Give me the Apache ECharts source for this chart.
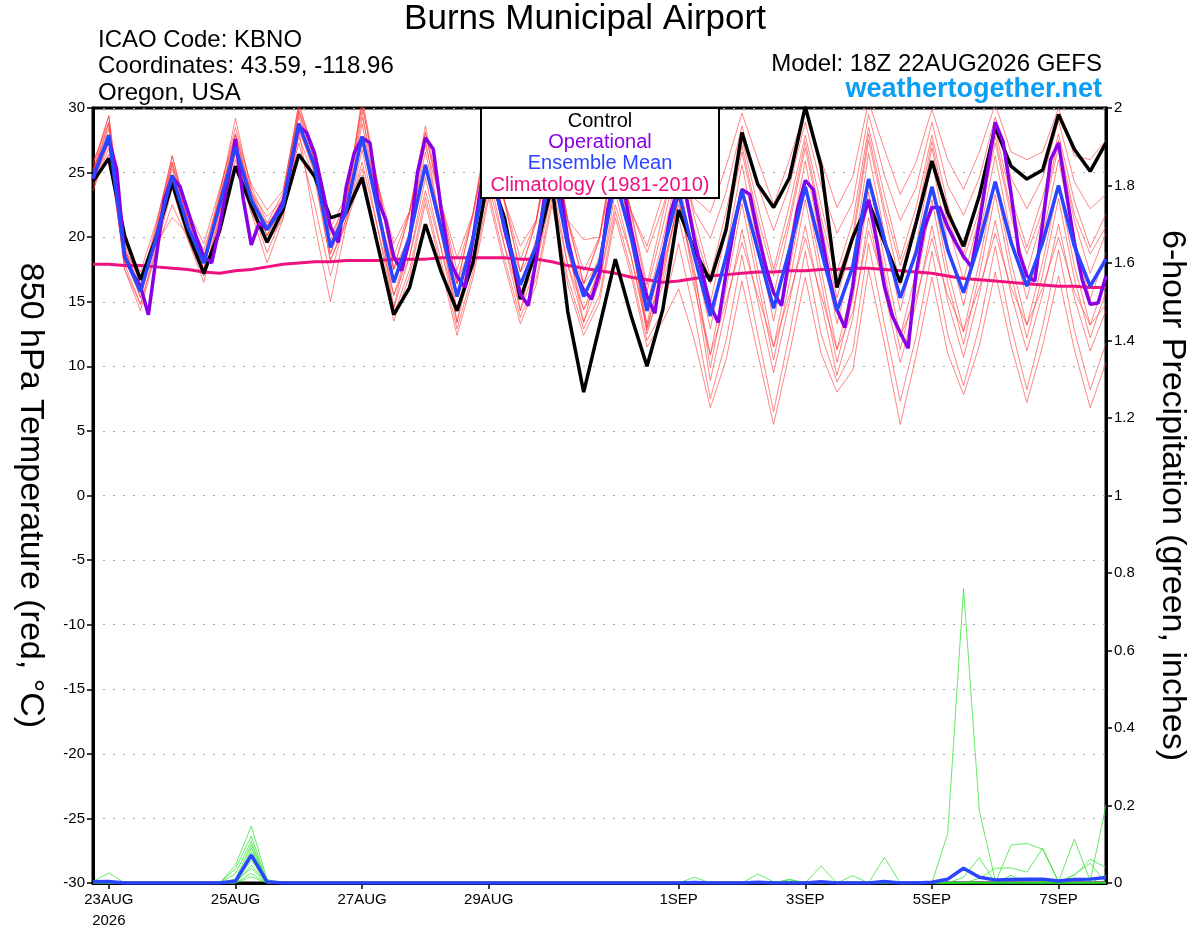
<!DOCTYPE html>
<html><head><meta charset="utf-8">
<script src="https://cdn.jsdelivr.net/npm/echarts@6/dist/echarts.min.js"></script>
<style>html,body{margin:0;padding:0;background:#fff}#c{width:1200px;height:927px}</style>
</head><body><div id="c"></div>
<script>
// ---- axis ticks (hours since 18Z 22AUG2026) ----
const tickHours = [6, 54, 102, 150, 222, 270, 318, 366];
const tickLabels = ['23AUG\n2026', '25AUG', '27AUG', '29AUG', '1SEP', '3SEP', '5SEP', '7SEP'];

// ---- 850 hPa temperature, 6-hourly (deg C) ----
const control = [24.3,26.1,20.1,16.7,20.0,24.2,20.3,17.2,20.5,25.5,
 22.4,19.6,22.1,26.4,24.7,21.5,21.9,24.6,19.3,14.0,
 16.1,21.0,17.3,14.3,18.0,25.0,21.5,15.2,19.0,24.0,
 14.2,8.0,13.1,18.3,13.9,10.0,14.4,22.1,19.0,16.6,
 20.6,28.1,24.1,22.3,24.6,30.1,25.5,16.1,20.0,22.7,
 19.6,16.5,21.1,25.9,21.9,19.3,23.2,28.5,25.5,24.5,
 25.2,29.5,26.8,25.1,27.3];

const ensembleMean = [24.6,27.9,18.5,15.8,20.0,24.8,20.8,18.0,22.5,27.0,
 22.9,20.6,22.4,28.8,25.5,19.2,22.0,27.8,22.1,16.5,
 20.0,25.6,20.6,15.4,19.8,26.0,20.8,16.3,19.3,25.5,
 19.3,15.4,18.0,24.5,20.0,14.3,18.8,23.5,18.5,13.9,
 18.5,23.6,19.0,14.5,19.0,23.9,19.0,14.3,17.7,24.5,
 19.8,15.3,18.8,23.9,19.0,15.7,19.6,24.3,19.6,16.2,
 19.6,24.0,19.3,16.2,18.3];

const climatology = [17.9,17.9,17.8,17.8,17.7,17.6,17.5,17.3,17.2,17.4,
 17.5,17.7,17.9,18.0,18.1,18.1,18.2,18.2,18.2,18.3,
 18.3,18.3,18.4,18.4,18.4,18.4,18.4,18.3,18.3,18.1,
 17.8,17.6,17.4,17.2,16.9,16.7,16.5,16.6,16.8,17.0,
 17.1,17.2,17.3,17.3,17.4,17.4,17.5,17.5,17.6,17.6,
 17.5,17.4,17.3,17.2,17.0,16.8,16.7,16.6,16.5,16.4,
 16.3,16.2,16.2,16.1,16.1];

// operational run, 3-hourly
const operational = [24.5,26.3,27.6,25.2,18.5,17.2,16.2,14.0,18.5,22.9,
 24.7,23.9,22.0,20.1,18.5,18.0,20.8,24.2,27.6,22.9,
 19.4,21.1,20.6,21.6,22.7,25.5,28.6,28.1,26.5,23.7,
 20.8,19.6,23.9,26.5,27.7,27.3,22.9,21.3,18.5,17.4,
 19.8,25.0,27.7,26.8,22.1,18.3,17.0,16.1,19.8,23.9,
 27.0,23.5,20.6,18.3,15.6,14.7,18.3,22.9,25.5,24.0,
 19.8,17.2,15.9,15.2,17.2,22.0,25.0,24.0,20.6,17.7,
 15.4,14.1,18.5,21.9,24.0,23.0,19.8,17.2,14.7,13.4,
 17.2,20.8,23.7,23.3,20.3,17.7,15.7,14.7,18.5,22.1,
 24.4,23.7,20.3,17.0,14.4,13.0,16.2,20.8,22.9,19.8,
 16.2,13.9,12.6,11.4,17.2,20.6,22.3,22.3,20.8,19.6,
 18.5,17.7,21.1,25.0,28.9,27.4,23.4,18.8,17.0,16.6,
 21.1,26.0,27.3,23.4,19.6,16.7,14.8,14.9,17.0];

// ensemble members (6-hourly)
const member01 = [25.6,29.4,19.5,16.3,21.0,26.3,21.8,18.5,23.5,28.5,
 23.9,21.1,23.4,30.3,26.5,19.7,23.0,30.3,24.1,18.5,
 22.0,28.1,22.6,17.4,21.8,28.5,22.8,18.3,21.3,28.0,
 21.3,17.4,20.0,27.0,22.0,19.3,23.3,27.5,23.0,21.9,
 25.5,29.6,26.0,22.5,26.0,29.9,26.0,22.3,24.7,30.5,
 26.8,23.3,25.8,29.9,26.0,23.7,26.6,30.3,26.6,26.0,
 26.6,30.0,26.3,26.0,27.5];
const member02 = [25.1,28.9,19.0,15.3,20.5,25.8,21.3,17.5,23.0,28.0,
 23.4,20.1,22.9,29.8,26.0,18.7,22.5,29.3,24.1,19.5,
 22.0,27.1,22.6,18.4,21.8,27.5,22.8,19.3,21.3,27.0,
 21.3,19.8,20.0,26.0,22.0,18.8,22.3,26.5,22.0,19.9,
 23.5,28.6,24.0,20.5,24.0,28.9,24.0,20.3,22.7,29.5,
 24.8,21.3,23.8,28.9,24.0,21.7,24.6,29.3,24.6,22.2,
 24.6,29.0,24.3,22.2,23.3];
const member03 = [25.1,28.4,19.0,16.8,20.5,25.3,21.3,19.0,23.0,27.5,
 23.4,21.6,22.9,29.3,26.0,20.2,22.5,30.8,24.1,17.5,
 22.0,28.6,22.6,16.4,21.8,29.0,22.8,17.3,21.3,28.5,
 21.3,16.4,20.0,27.5,22.0,16.3,21.8,27.0,21.5,16.9,
 22.0,27.6,22.5,17.5,22.5,27.9,22.5,17.3,21.2,28.5,
 23.3,18.3,22.3,27.9,22.5,18.7,23.1,28.3,23.1,19.2,
 23.1,28.0,22.8,19.2,21.8];
const member04 = [24.6,27.9,18.5,15.3,20.0,24.8,20.8,17.5,22.5,27.0,
 22.9,20.1,22.4,28.8,25.5,18.7,22.0,28.8,22.6,16.5,
 20.5,26.6,21.1,15.4,20.3,27.0,21.3,16.3,19.8,26.5,
 19.8,15.4,18.5,25.5,20.5,14.8,19.8,25.5,19.5,14.9,
 20.5,26.6,21.0,15.5,21.0,26.9,21.0,15.3,19.7,27.5,
 21.8,16.3,20.8,26.9,21.0,16.7,21.6,27.3,21.6,17.2,
 21.6,27.0,21.3,17.2,20.3];
const member05 = [24.3,27.4,18.2,15.8,19.7,24.3,20.5,18.0,22.2,26.5,
 22.6,20.6,22.1,28.3,25.2,19.2,21.7,27.8,21.6,15.5,
 19.5,25.6,20.1,14.4,19.3,26.0,20.3,15.3,18.8,25.5,
 18.8,14.4,17.5,24.5,19.5,13.3,18.8,24.5,18.5,12.9,
 19.0,25.6,19.5,13.5,19.5,25.9,19.5,13.3,18.2,26.5,
 20.3,14.3,19.3,25.9,19.5,14.7,20.1,26.3,20.1,15.2,
 20.1,26.0,19.8,15.2,18.8];
const member06 = [23.6,26.9,17.5,14.8,19.0,23.8,19.8,17.0,21.5,26.0,
 21.9,19.6,21.4,27.8,24.5,18.2,21.0,26.8,20.6,14.5,
 18.5,24.6,19.1,13.4,18.3,25.0,19.3,14.3,17.8,24.5,
 17.8,13.4,16.5,23.5,18.5,13.0,17.3,23.0,17.0,10.9,
 17.0,23.6,17.5,11.5,17.5,23.9,17.5,11.3,16.2,24.5,
 18.3,12.3,17.3,23.9,17.5,12.7,18.1,24.3,18.1,13.2,
 18.1,24.0,17.8,13.2,16.8];
const member07 = [25.1,28.7,19.0,16.1,20.5,25.6,21.3,18.3,23.0,27.8,
 23.4,20.9,22.9,29.6,26.0,19.5,22.5,27.3,22.1,17.5,
 20.0,25.1,20.6,16.4,19.8,25.5,20.8,17.3,19.3,25.0,
 19.3,16.4,18.0,24.0,20.0,13.0,17.8,22.5,17.5,9.9,
 16.0,22.6,16.5,10.5,16.5,22.9,16.5,10.3,15.2,23.5,
 17.3,11.3,16.3,22.9,16.5,11.7,17.1,23.3,17.1,12.2,
 17.1,23.0,16.8,12.2,15.8];
const member08 = [24.0,27.6,17.9,14.8,19.4,24.5,20.2,17.0,21.9,26.7,
 22.3,18.8,21.8,28.5,24.9,18.2,21.4,25.8,20.6,15.5,
 18.5,23.6,19.1,14.4,18.3,24.0,19.3,15.3,17.8,23.5,
 17.8,14.4,16.5,22.5,18.5,12.8,16.3,21.5,16.0,10.9,
 15.0,19.6,15.5,11.5,15.5,19.9,15.5,11.3,14.2,20.5,
 16.3,12.3,15.3,19.9,15.5,12.7,16.1,20.3,16.1,13.2,
 16.1,20.0,15.8,13.2,14.8];
const member09 = [25.3,29.4,19.2,15.8,20.7,26.3,21.5,18.0,23.2,29.2,
 23.6,20.6,23.1,30.3,26.2,19.2,22.7,29.8,22.1,14.5,
 20.0,27.6,20.6,13.4,19.8,28.0,20.8,14.3,19.3,27.5,
 19.3,13.4,18.0,26.5,20.0,12.5,16.8,23.0,16.5,8.9,
 14.5,20.6,15.0,9.5,15.0,20.9,15.0,9.3,13.7,21.5,
 15.8,10.3,14.8,20.9,15.0,10.7,15.6,21.3,15.6,11.2,
 15.6,21.0,15.3,11.2,14.3];
const member10 = [24.1,26.4,18.0,16.3,19.5,21.5,20.3,18.5,22.0,25.5,
 22.4,21.1,21.9,27.3,22.5,17.0,21.5,25.3,19.6,14.0,
 17.5,23.1,18.1,12.9,17.3,23.5,18.3,13.8,16.8,23.0,
 16.8,12.9,15.5,22.0,17.5,12.0,14.3,19.5,14.0,7.5,
 12.0,18.6,12.5,6.5,12.5,18.9,12.5,8.8,11.2,19.5,
 13.3,7.3,12.3,18.9,12.5,8.5,13.1,19.3,13.1,8.2,
 13.1,19.0,12.8,8.2,11.8];
const member11 = [25.8,28.9,19.7,17.3,21.2,25.8,22.0,19.5,23.7,28.0,
 24.1,22.1,23.6,29.8,26.7,20.7,23.2,30.3,23.9,17.5,
 21.8,28.1,22.4,16.4,21.6,28.5,22.6,17.3,21.1,28.0,
 21.1,16.4,19.8,27.0,21.8,15.8,20.8,26.5,20.5,16.4,
 21.0,27.1,21.5,17.0,21.5,27.4,21.5,16.8,20.2,28.0,
 22.3,17.8,21.3,27.4,21.5,18.2,22.1,27.8,22.1,18.7,
 22.1,27.5,21.8,18.7,20.8];
const member12 = [23.6,27.4,17.5,14.3,19.0,22.5,19.8,16.5,21.5,26.5,
 21.9,18.0,21.4,28.3,21.0,15.0,21.0,24.8,19.1,13.5,
 17.0,22.6,17.6,12.4,16.8,23.0,17.8,13.3,16.3,22.5,
 16.3,12.4,15.0,21.5,17.0,11.5,13.5,16.0,12.0,6.8,
 10.5,16.6,11.0,5.5,11.0,16.9,11.0,8.0,9.7,17.5,
 11.8,5.5,10.8,16.9,11.0,7.8,11.6,17.3,11.6,7.2,
 11.6,17.0,11.3,6.8,10.3];

// ---- 6-hour precipitation (inches), 6-hourly ----
const precipMean = [0.003,0.004,0,0,0,0,0,0,0,0.005,
 0.072,0.003,0,0,0,0,0,0,0,0,
 0,0,0,0,0,0,0,0,0,0,
 0,0,0,0,0,0,0,0,0.001,0,
 0,0,0.002,0,0,0,0.003,0,0,0,
 0.004,0,0,0.002,0.010,0.038,0.015,0.008,0.009,0.010,
 0.010,0.005,0.009,0.010,0.014];
const precip01 = [0,0,0,0,0,0,0,0,0,0.046, 0.147,0.009,0,0,0,0,0,0,0,0,
 0,0,0,0,0,0,0,0,0,0, 0,0,0,0,0,0,0,0,0.015,0, 0,0,0,0,0,0,0.044,0,0,0,
 0,0,0,0,0,0,0,0,0,0, 0,0,0,0,0];
const precip02 = [0,0,0,0,0,0,0,0,0,0.037, 0.121,0.004,0,0,0,0,0,0,0,0,
 0,0,0,0,0,0,0,0,0,0, 0,0,0,0,0,0,0,0,0,0, 0,0,0.023,0.003,0,0,0,0,0,0,
 0,0,0,0,0,0,0,0,0,0, 0,0,0,0,0];
const precip03 = [0,0,0,0,0,0,0,0,0,0.024, 0.108,0,0,0,0,0,0,0,0,0,
 0,0,0,0,0,0,0,0,0,0, 0,0,0,0,0,0,0,0,0,0, 0,0,0,0,0.010,0,0,0,0.019,0,
 0,0,0,0,0,0,0,0,0,0, 0,0,0,0,0];
const precip04 = [0,0,0,0,0,0,0,0,0,0.010, 0.099,0,0,0,0,0,0,0,0,0,
 0,0,0,0,0,0,0,0,0,0, 0,0,0,0,0,0,0,0,0,0, 0,0,0,0,0.008,0,0,0,0,0,
 0.066,0,0,0,0,0,0,0,0,0, 0,0,0,0,0];
const precip05 = [0.004,0.026,0,0,0,0,0,0,0,0, 0.090,0,0,0,0,0,0,0,0,0,
 0,0,0,0,0,0,0,0,0,0, 0,0,0,0,0,0,0,0,0,0, 0,0,0,0,0,0,0,0,0,0,
 0,0,0,0,0.128,0.760,0.185,0.008,0,0, 0,0,0,0,0];
const precip06 = [0,0,0,0,0,0,0,0,0,0, 0.080,0,0,0,0,0,0,0,0,0,
 0,0,0,0,0,0,0,0,0,0, 0,0,0,0,0,0,0,0,0,0, 0,0,0,0,0,0,0,0,0,0,
 0,0,0,0,0,0.015,0.066,0,0,0, 0,0,0,0,0];
const precip07 = [0,0,0,0,0,0,0,0,0,0, 0.072,0,0,0,0,0,0,0,0,0,
 0,0,0,0,0,0,0,0,0,0, 0,0,0,0,0,0,0,0,0,0, 0,0,0,0,0,0,0,0,0,0,
 0,0,0,0,0,0,0.012,0.038,0.039,0.028, 0.090,0.003,0.020,0.061,0.040];
const precip08 = [0,0,0,0,0,0,0,0,0,0, 0.059,0,0,0,0,0,0,0,0,0,
 0,0,0,0,0,0,0,0,0,0, 0,0,0,0,0,0,0,0,0,0, 0,0,0,0,0,0,0,0,0,0,
 0,0,0,0,0,0,0,0,0.098,0.102, 0.087,0.003,0.113,0.005,0.201];
const precip09 = [0,0,0,0,0,0,0,0,0,0, 0.046,0,0,0,0,0,0,0,0,0,
 0,0,0,0,0,0,0,0,0,0, 0,0,0,0,0,0,0,0,0,0, 0,0,0,0,0,0,0,0,0,0,
 0,0,0,0,0,0,0,0,0.020,0, 0.004,0,0.022,0.051,0];
const precip10 = [0,0,0,0,0,0,0,0,0,0.005, 0.038,0,0,0,0,0,0,0,0,0,
 0,0,0,0,0,0,0,0,0,0, 0,0,0,0,0,0,0,0,0,0, 0,0,0,0,0,0,0,0,0,0,
 0,0,0,0,0,0,0,0,0,0, 0,0,0,0,0];
const precip11 = [0,0,0,0,0,0,0,0,0,0, 0.025,0,0,0,0,0,0,0,0,0,
 0,0,0,0,0,0,0,0,0,0, 0,0,0,0,0,0,0,0,0,0, 0,0,0,0,0,0,0,0,0,0,
 0,0,0,0,0,0,0,0,0,0, 0,0,0,0,0];
const precip12 = [0,0,0,0,0,0,0,0,0,0, 0.016,0,0,0,0,0,0,0,0,0,
 0,0,0,0,0,0,0,0,0,0, 0,0,0,0,0,0,0,0,0,0, 0,0,0,0,0,0,0,0,0,0,
 0,0,0,0,0,0,0,0,0,0, 0,0,0,0,0.020];

// ---- build ----
const FONT = '"Liberation Sans", Arial, Helvetica, sans-serif';
const pairs = (arr, step) => arr.map((v, i) => [i * step, v]);
const members = [member01, member02, member03, member04, member05, member06,
  member07, member08, member09, member10, member11, member12];
const precipMembers = [precip01, precip02, precip03, precip04, precip05, precip06,
  precip07, precip08, precip09, precip10, precip11, precip12];

const series = [];
members.forEach((m, k) => series.push({
  name: 'member' + (k + 1), type: 'line', yAxisIndex: 0, data: pairs(m, 6),
  symbol: 'none', silent: true, z: 2,
  lineStyle: { color: 'rgba(255,55,55,0.75)', width: 0.8 }
}));
precipMembers.forEach((m, k) => series.push({
  name: 'precip' + (k + 1), type: 'line', yAxisIndex: 1, data: pairs(m, 6),
  symbol: 'none', silent: true, z: 2,
  lineStyle: { color: 'rgba(40,225,40,0.9)', width: 0.8 }
}));
series.push({ name: 'Climatology (1981-2010)', type: 'line', yAxisIndex: 0, data: pairs(climatology, 6),
  symbol: 'none', z: 4, lineStyle: { color: '#ee1180', width: 3 } });
series.push({ name: 'Control', type: 'line', yAxisIndex: 0, data: pairs(control, 6),
  symbol: 'none', z: 5, lineStyle: { color: '#000000', width: 3.5 } });
series.push({ name: 'Operational', type: 'line', yAxisIndex: 0, data: pairs(operational, 3),
  symbol: 'none', z: 6, lineStyle: { color: '#8a00e6', width: 3.5 } });
series.push({ name: 'Ensemble Mean', type: 'line', yAxisIndex: 0, data: pairs(ensembleMean, 6),
  symbol: 'none', z: 7, lineStyle: { color: '#2a44ff', width: 3.5 } });
series.push({ name: 'Ensemble Mean Precip', type: 'line', yAxisIndex: 1, data: pairs(precipMean, 6),
  symbol: 'none', z: 7, lineStyle: { color: '#2a44ff', width: 3.5 } });

const txt = (text, x, y, size, align, color, weight) => ({
  type: 'text', z: 100, silent: true,
  style: { text, x, y, fill: color || '#000', align, verticalAlign: 'middle',
    textAlign: align, textVerticalAlign: 'middle',
    font: (weight || 'normal') + ' ' + size + 'px ' + FONT }
});

const option = {
  animation: false,
  backgroundColor: '#ffffff',
  grid: { left: 93, right: 94, top: 108, bottom: 44, show: true, borderColor: '#000', borderWidth: 3,
    backgroundColor: 'transparent', containLabel: false, outerBoundsMode: 'none' },
  xAxis: {
    type: 'value', min: 0, max: 384,
    axisLine: { show: true, onZero: false, lineStyle: { color: '#000', width: 3 } },
    axisTick: { show: true, customValues: tickHours, length: 6, lineStyle: { color: '#000', width: 1.5 } },
    axisLabel: { show: true, customValues: tickHours, color: '#000', fontSize: 15, fontFamily: FONT,
      margin: 6, lineHeight: 21,
      formatter: v => { const i = tickHours.indexOf(v); return i >= 0 ? tickLabels[i] : ''; } },
    splitLine: { show: false }
  },
  yAxis: [
    { type: 'value', min: -30, max: 30, interval: 5, position: 'left',
      axisLine: { show: true, onZero: false, lineStyle: { color: '#000', width: 3 } },
      axisTick: { show: true, length: 6, lineStyle: { color: '#000', width: 1.5 } },
      axisLabel: { color: '#000', fontSize: 15, fontFamily: FONT, margin: 8 },
      splitLine: { show: true, lineStyle: { color: '#aaaaaa', width: 1.2, type: [2, 8] } },
      name: '850 hPa Temperature (red, °C)', nameLocation: 'middle', nameGap: 46, nameRotate: -90,
      nameTextStyle: { color: '#000', fontSize: 34, fontFamily: FONT } },
    { type: 'value', min: 0, max: 2, interval: 0.2, position: 'right',
      axisLine: { show: true, onZero: false, lineStyle: { color: '#000', width: 3 } },
      axisTick: { show: true, length: 6, lineStyle: { color: '#000', width: 1.5 } },
      axisLabel: { color: '#000', fontSize: 15, fontFamily: FONT, margin: 8 },
      splitLine: { show: false },
      name: '6-hour Precipitation (green, inches)', nameLocation: 'middle', nameGap: 49, nameRotate: -90,
      nameTextStyle: { color: '#000', fontSize: 34, fontFamily: FONT } }
  ],
  graphic: [
    txt('Burns Municipal Airport', 585, 19, 35, 'center'),
    txt('ICAO Code: KBNO', 98, 40, 24, 'left'),
    txt('Coordinates: 43.59, -118.96', 98, 66, 24, 'left'),
    txt('Oregon, USA', 98, 93, 24, 'left'),
    txt('Model: 18Z 22AUG2026 GEFS', 1102, 64, 24, 'right'),
    txt('weathertogether.net', 1102, 90, 27, 'right', '#0a9ef5', 'bold'),
    { type: 'rect', z: 99, silent: true, shape: { x: 481, y: 108, width: 238, height: 90 },
      style: { fill: '#fff', stroke: '#000', lineWidth: 2 } },
    txt('Control', 600, 121, 20, 'center', '#000'),
    txt('Operational', 600, 142, 20, 'center', '#8a00e6'),
    txt('Ensemble Mean', 600, 163, 20, 'center', '#2a44ff'),
    txt('Climatology (1981-2010)', 600, 185, 20, 'center', '#ee1180')
  ],
  series
};
echarts.init(document.getElementById('c')).setOption(option);
</script></body></html>
